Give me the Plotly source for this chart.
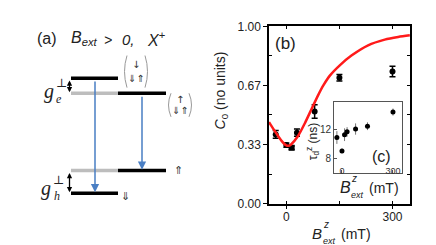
import plotly.graph_objects as go

W, H = 436, 245

# ---------------- data ----------------
B_main = [-30, 0, 15, 30, 80, 150, 300]
C0 = [0.39, 0.33, 0.315, 0.40, 0.52, 0.71, 0.745]
C0_err = [0.022, 0.012, 0.01, 0.02, 0.038, 0.018, 0.03]
main_symbols = ["circle", "circle", "square", "circle", "circle", "circle", "circle"]

fit_B = [-49, -45, -28, -14, 0, 7, 14, 33, 52, 71, 90, 105, 123, 151, 184, 231, 278, 316, 349]
fit_C = [0.46, 0.447, 0.395, 0.355, 0.328, 0.326, 0.335, 0.381, 0.452, 0.532, 0.612,
         0.668, 0.722, 0.78, 0.835, 0.893, 0.925, 0.94, 0.949]

B_inset = [-30, 0, 15, 30, 80, 150, 300]
tau = [10.9, 9.0, 11.3, 11.7, 12.1, 12.5, 14.5]
tau_err = [0.9, 0.33, 0.9, 0.67, 0.8, 0.55, 0.5]

main_yticks = [0, 1/3, 2/3, 1]
main_yticklabels = ["0.00", "0.33", "0.67", "1.00"]
main_xticks = [0, 300]
inset_xticks = [0, 300]
inset_yticks = [8, 12]

# schematic (panel a), in pixel units of the left panel
black_x0 = [63, 110, 110, 63]
black_x1 = [110, 158, 158, 110]
black_y = [67, 83, 165, 189]
grey_x0 = [63, 63]
grey_x1 = [110, 110]
grey_y = [83, 165]
trans_x = [87, 134]
trans_from = [67, 83]
trans_to = [189, 165]
gap_x = [61.5, 61.5]
gap_top = [68, 166]
gap_bot = [82, 188]
VS = "\ufe0e"
brackets = [(116, 140, 43, 77, "↓" + VS, "⇓" + VS + "⇑" + VS),
            (160, 184, 83, 108, "↑" + VS, "⇓" + VS + "⇑" + VS)]

FONT = "Liberation Sans"
ARROWFONT = "DejaVu Sans"


def P(px, py):
    return px / W, 1 - py / H


fig = go.Figure()

# main data
fig.add_trace(go.Scatter(
    x=B_main, y=C0, mode="markers",
    marker=dict(color="black", size=6, symbol=main_symbols),
    error_y=dict(type="data", array=C0_err, color="black", thickness=1.5, width=3),
    xaxis="x", yaxis="y", showlegend=False, hoverinfo="skip"))
fig.add_trace(go.Scatter(
    x=fit_B, y=fit_C, mode="lines",
    line=dict(color="#ff1a1a", width=2.5, shape="spline", smoothing=0.8),
    xaxis="x", yaxis="y", showlegend=False, hoverinfo="skip"))
# mirror axes holder
fig.add_trace(go.Scatter(x=[None], y=[None], xaxis="x3", yaxis="y3",
                         showlegend=False, hoverinfo="skip"))
# inset
fig.add_trace(go.Scatter(
    x=B_inset, y=tau, mode="markers",
    marker=dict(color="black", size=5),
    error_y=dict(type="data", array=tau_err, color="#777", thickness=1, width=0),
    xaxis="x2", yaxis="y2", showlegend=False, hoverinfo="skip"))


def seg(x0s, x1s, ys):
    xs, yv = [], []
    for a, b, y in zip(x0s, x1s, ys):
        xs += [a, b, None]
        yv += [y, y, None]
    return xs, yv

gx, gy = seg(grey_x0, grey_x1, grey_y)
fig.add_trace(go.Scatter(x=gx, y=gy, mode="lines", line=dict(color="#bdbdbd", width=3.5),
                         xaxis="x4", yaxis="y4", showlegend=False, hoverinfo="skip"))
bx, by = seg(black_x0, black_x1, black_y)
fig.add_trace(go.Scatter(x=bx, y=by, mode="lines", line=dict(color="black", width=3.5),
                         xaxis="x4", yaxis="y4", showlegend=False, hoverinfo="skip"))

ann = []
shapes = []

for x, y0, y1 in zip(trans_x, trans_from, trans_to):
    ann.append(dict(x=x, y=y1 - 1, ax=x, ay=y0 + 2, xref="x4", yref="y4", axref="x4", ayref="y4",
                    text="", showarrow=True, arrowhead=2, arrowsize=1.1, arrowwidth=1.5,
                    arrowcolor="#4a7fc4", standoff=0, startstandoff=0))
for x, y0, y1 in zip(gap_x, gap_top, gap_bot):
    ann.append(dict(x=x, y=y1, ax=x, ay=y0, xref="x4", yref="y4", axref="x4", ayref="y4",
                    text="", showarrow=True, arrowhead=2, startarrowhead=2, arrowside="end+start",
                    arrowsize=0.8, startarrowsize=0.8, arrowwidth=1.3,
                    arrowcolor="black", standoff=0, startstandoff=0))

for (x0, x1, y0, y1, top, bot) in brackets:
    ym = (y0 + y1) / 2
    shapes.append(dict(type="path", xref="x4", yref="y4",
                       path=f"M {x0+3},{y0} Q {x0-2},{ym} {x0+3},{y1}",
                       line=dict(color="#999", width=1)))
    shapes.append(dict(type="path", xref="x4", yref="y4",
                       path=f"M {x1-3},{y0} Q {x1+2},{ym} {x1-3},{y1}",
                       line=dict(color="#999", width=1)))
    xc = (x0 + x1) / 2
    ann.append(dict(x=xc, y=y0 + (y1 - y0) * 0.27, xref="x4", yref="y4", text=top,
                    showarrow=False, font=dict(family=ARROWFONT, size=10, color="#333")))
    ann.append(dict(x=xc, y=y0 + (y1 - y0) * 0.73, xref="x4", yref="y4", text=bot,
                    showarrow=False, font=dict(family=ARROWFONT, size=10, color="#333")))

ann.append(dict(x=170, y=165, xref="x4", yref="y4", text="⇑" + VS, showarrow=False,
                font=dict(family=ARROWFONT, size=11, color="#333")))
ann.append(dict(x=117, y=192, xref="x4", yref="y4", text="⇓" + VS, showarrow=False,
                font=dict(family=ARROWFONT, size=11, color="#333")))


def txt(px, py, s, size, family=FONT, xanchor="center", color="#222", angle=0):
    x, y = P(px, py)
    ann.append(dict(x=x, y=y, xref="paper", yref="paper", text=s, showarrow=False,
                    xanchor=xanchor, yanchor="middle", textangle=angle,
                    font=dict(family=family, size=size, color=color)))

SERIF = "Liberation Serif"
# g labels
txt(41, 81, "<i>g</i>", 20, SERIF)
txt(53, 72, "⊥", 12, "DejaVu Serif")
txt(51, 89, "<i>e</i>", 12, SERIF)
txt(38, 184, "<i>g</i>", 20, SERIF)
txt(50, 175, "⊥", 12, "DejaVu Serif")
txt(49, 192, "<i>h</i>", 12, SERIF)

# panel a title
txt(27, 25, "(a)", 16, xanchor="left")
txt(61, 25, "<i>B<sub>ext</sub></i>", 16, xanchor="left")
txt(100, 26, "<i>></i>", 14)
txt(112, 26, "<i>0,</i>", 15, xanchor="left")
txt(137, 25, "<i>X</i><sup>+</sup>", 16, xanchor="left")

# panel labels
txt(277, 30, "(b)", 17)
txt(373, 150, "(c)", 16)

# axis titles
txt(213, 80, "<i>C</i><sub>0</sub> (no units)", 14, angle=-90)
txt(305, 134, "τ<sub>d</sub><sup>z</sup> (ns)", 12, angle=-90)


def blabel(px, py, big=15):
    txt(px, py, "<i>B</i>", big)
    txt(px + 9, py - 10, "<i>z</i>", 10)
    txt(px + 12, py + 8, "<i>ext</i>", 9)
    txt(px + 22, py, "(mT)", 14, xanchor="left")

blabel(309, 232)
blabel(337, 183, 16)

xd = [261 / W, 402 / W]
yd = [1 - 200 / H, 1 - 12 / H]
axis_common = dict(showgrid=False, zeroline=False, linecolor="black", linewidth=1.5,
                   tickcolor="black", tickfont=dict(family=FONT, size=12, color="#222"))

fig.update_layout(
    width=W, height=H, margin=dict(l=0, r=0, t=0, b=0, pad=0),
    paper_bgcolor="white", plot_bgcolor="rgba(0,0,0,0)",
    xaxis=dict(domain=xd, range=[-49, 349.5], anchor="y", showline=True,
               tickvals=main_xticks, ticks="outside", ticklen=4, tickwidth=1.2,
               ticklabelstandoff=-3,
               minor=dict(dtick=150, tick0=0, ticks="inside", ticklen=3, tickcolor="black"),
               **axis_common),
    yaxis=dict(domain=yd, range=[0, 1], anchor="x", showline=True,
               tickvals=main_yticks, ticktext=main_yticklabels, ticks="outside",
               ticklen=4, tickwidth=1.2,
               minor=dict(tickvals=[1/6, 1/2, 5/6], ticks="inside", ticklen=3, tickcolor="black"),
               **axis_common),
    xaxis3=dict(overlaying="x", side="top", range=[-49, 349.5], anchor="y3", showline=True,
                tickvals=[0, 150, 300], ticks="inside", ticklen=3, showticklabels=False,
                **axis_common),
    yaxis3=dict(overlaying="y", side="right", range=[0, 1], anchor="x3", showline=True,
                tickvals=[1/6, 1/3, 1/2, 2/3, 5/6], ticks="inside", ticklen=3,
                showticklabels=False, **axis_common),
    xaxis2=dict(domain=[326 / W, 394 / W], range=[-47, 353], anchor="y2",
                showline=True, mirror=True, linecolor="#555", linewidth=1,
                tickvals=inset_xticks, ticks="inside", ticklen=3, tickcolor="#555",
                ticklabelstandoff=-11,
                tickfont=dict(family=FONT, size=9, color="#333"),
                showgrid=False, zeroline=False),
    yaxis2=dict(domain=[1 - 167.3 / H, 1 - 92 / H], range=[5.92, 15.96], anchor="x2",
                showline=True, mirror=True, linecolor="#555", linewidth=1,
                tickvals=inset_yticks, ticks="inside", ticklen=3, tickcolor="#555",
                tickfont=dict(family=FONT, size=10, color="#333"),
                showgrid=False, zeroline=False),
    xaxis4=dict(domain=[0, 196.2 / W], range=[0, 196.2], anchor="y4", visible=False),
    yaxis4=dict(domain=[0, 1], range=[245, 0], anchor="x4", visible=False),
    annotations=ann,
    shapes=shapes,
)

fig.write_html("out.html")
